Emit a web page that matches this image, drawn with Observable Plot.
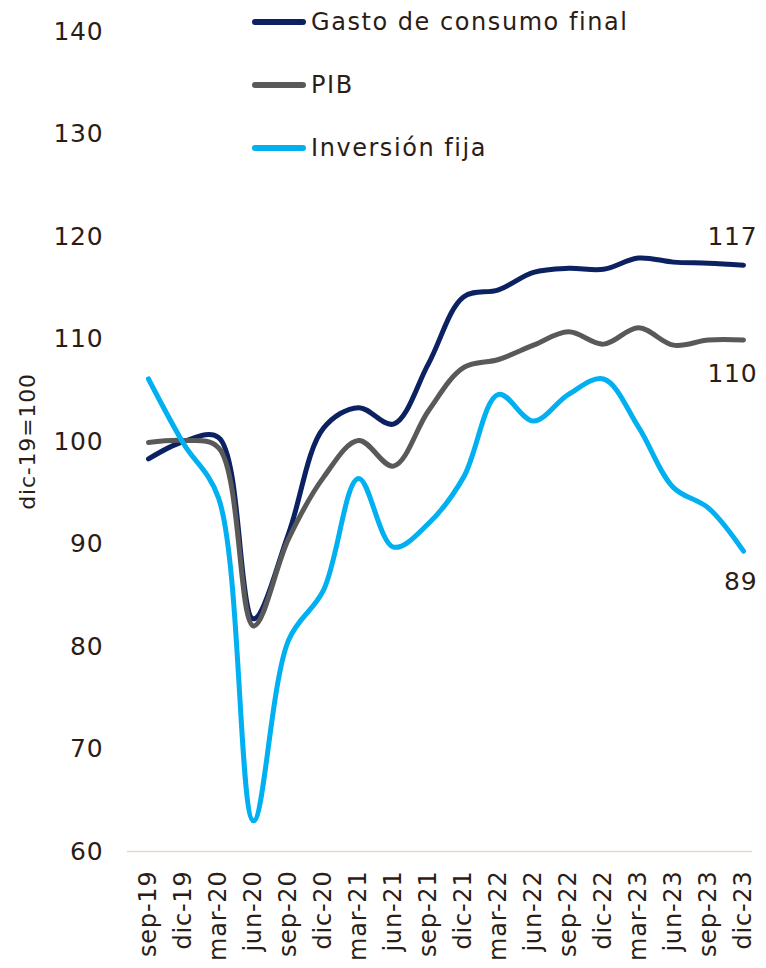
<!DOCTYPE html>
<html><head><meta charset="utf-8">
<script src="https://cdn.jsdelivr.net/npm/d3@7"></script>
<script src="https://cdn.jsdelivr.net/npm/@observablehq/plot@0.6"></script>
<style>
body{margin:0;background:#fff;}
#wrap{position:relative;width:766px;height:968px;font-family:"DejaVu Sans",sans-serif;color:#2b1d16;}
#legend{position:absolute;left:0;top:0;}
.item{position:absolute;left:252px;height:30px;display:flex;align-items:center;white-space:nowrap;font-size:24px;letter-spacing:1.55px;}
.item span.sw{display:inline-block;width:54px;height:6px;border-radius:3px;margin-right:5px;}
#chart svg text{letter-spacing:0.8px;}
</style></head><body>
<div id="wrap"><div id="chart"></div><div id="legend"></div></div>
<script>
const quarters = ["sep-19","dic-19","mar-20","jun-20","sep-20","dic-20","mar-21","jun-21","sep-21","dic-21","mar-22","jun-22","sep-22","dic-22","mar-23","jun-23","sep-23","dic-23"];
const gasto = [98.3,100.0,100.4,82.7,91.0,101.3,103.3,101.7,107.6,114.1,114.8,116.5,116.9,116.8,117.9,117.5,117.4,117.2];
const pib = [99.9,100.1,99.4,82.0,90.5,96.5,100.1,97.6,103.0,107.2,108.0,109.4,110.7,109.5,111.1,109.4,109.9,109.9];
const inversion = [106.1,99.8,94.5,63.0,80.6,85.5,96.4,89.7,92.0,96.5,104.6,102.0,104.6,106.1,101.4,95.5,93.5,89.3];
const seriesNames = ["Gasto de consumo final","PIB","Inversión fija"];
const seriesColors = ["#0b2161","#595959","#00b0f0"];
const endLabels = ["117","110","89"];
const yTicks = [60,70,80,90,100,110,120,130,140];
const endDy = [-28,34,31];

const allSeries = [gasto,pib,inversion];
const rows = [];
allSeries.forEach((vals,s)=>vals.forEach((v,i)=>rows.push({q:quarters[i],v,s:seriesNames[s]})));

const textColor = "#2b1d16";
const marks = [
  Plot.ruleY([60],{stroke:"#e8d8cb",strokeWidth:1.5,insetLeft:-13,insetRight:-2}),
  Plot.axisY({ticks:yTicks,tickSize:0,tickPadding:37,fontSize:25,label:null,fill:textColor}),
  Plot.axisX({tickSize:0,tickPadding:19,tickRotate:-90,fontSize:24,label:null,fill:textColor}),
  Plot.text(["dic-19=100"],{frameAnchor:"left",rotate:-90,dx:-113,textAnchor:"middle",fontSize:22,fill:textColor}),
];
allSeries.forEach((vals,s)=>{
  marks.push(Plot.line(rows.filter(r=>r.s===seriesNames[s]),{x:"q",y:"v",stroke:seriesColors[s],strokeWidth:5,curve:"catmull-rom",strokeLinecap:"round",strokeLinejoin:"round"}));
});
allSeries.forEach((vals,s)=>{
  marks.push(Plot.text([{q:quarters[quarters.length-1],v:vals[vals.length-1],t:endLabels[s]}],{x:"q",y:"v",text:"t",dy:endDy[s],dx:14,textAnchor:"end",fontSize:25,fill:textColor}));
});

const chart = Plot.plot({
  width:766,height:968,
  marginLeft:140,marginRight:16,marginTop:31,marginBottom:117,
  style:{fontFamily:"DejaVu Sans, sans-serif",background:"#fff",color:textColor},
  x:{type:"point",domain:quarters,padding:0},
  y:{domain:[60,140]},
  marks
});
document.getElementById("chart").appendChild(chart);

const lg = document.getElementById("legend");
seriesNames.forEach((n,i)=>{
  const d=document.createElement("div");d.className="item";d.style.top=(22+i*63-15)+"px";
  const sw=document.createElement("span");sw.className="sw";sw.style.background=seriesColors[i];
  d.appendChild(sw);d.appendChild(document.createTextNode(n));lg.appendChild(d);
});
</script></body></html>
